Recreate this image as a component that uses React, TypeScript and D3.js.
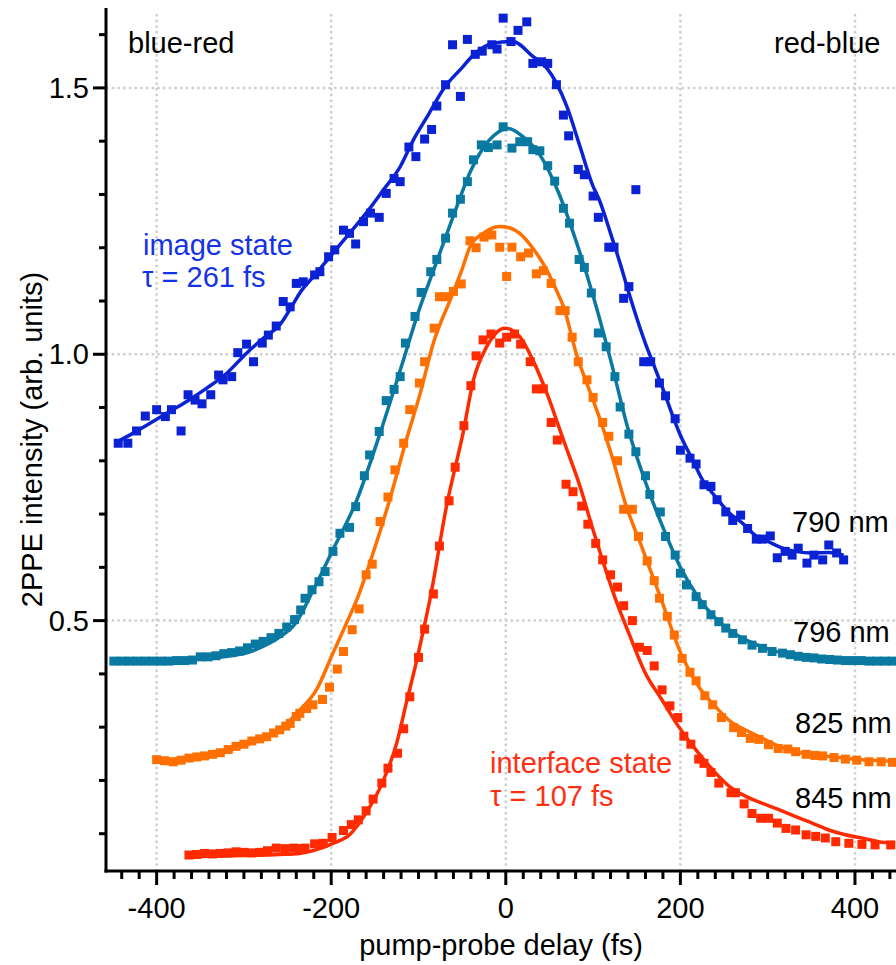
import React from "react";
import * as d3 from "d3";

// Cross-correlation traces: measured points (delay in fs, 2PPE signal) and fitted curves
const blueDelay = [-444,-433,-423,-413,-400,-390,-383,-372,-364,-356,-348,-338,-329,-324,-314,-307,-297,-289,-279,-272,-263,-255,-247,-240,-232,-219,-213,-203,-196,-186,-179,-172,-163,-155,-145,-137,-128,-121,-111,-103,-93,-85,-79,-69,-61,-52,-44,-35,-27,-16,-10,-3,6,14,24,31,41,48,58,66,72,83,90,100,106,118,124,135,141,149,158,166,176,183,194,200,211,218,227,235,242,252,260,269,277,287,294,303,311,320,328,335,345,353,363,370,379,387];
const blueSignal = [0.833,0.833,0.856,0.884,0.896,0.883,0.896,0.856,0.924,0.914,0.907,0.924,0.961,0.952,0.958,1.003,1.019,0.986,1.021,1.036,1.053,1.099,1.089,1.133,1.136,1.149,1.155,1.183,1.196,1.233,1.227,1.207,1.249,1.265,1.257,1.302,1.330,1.324,1.389,1.371,1.404,1.422,1.466,1.506,1.581,1.484,1.591,1.563,1.569,1.581,1.573,1.631,1.587,1.608,1.624,1.546,1.549,1.546,1.506,1.449,1.410,1.347,1.337,1.297,1.257,1.201,1.201,1.105,1.127,1.309,0.986,0.986,0.946,0.922,0.879,0.820,0.805,0.794,0.755,0.752,0.727,0.704,0.688,0.698,0.673,0.653,0.653,0.659,0.618,0.630,0.623,0.636,0.608,0.623,0.614,0.642,0.627,0.614];
const blueFitDelay = [-448,-427,-408,-389,-366,-343,-320,-297,-278,-259,-243,-236,-217,-198,-179,-160,-140,-121,-106,-89,-71,-49,-37,-14,8,31,47,58,70,85,100,107,120,132,141,150,160,170,180,190,200,214,225,240,256,271,286,301,317,332,351,370,387];
const blueFit = [0.833,0.852,0.870,0.889,0.911,0.936,0.964,1.002,1.030,1.055,1.096,1.115,1.152,1.190,1.227,1.265,1.309,1.352,1.402,1.449,1.499,1.540,1.562,1.584,1.587,1.559,1.537,1.509,1.465,1.390,1.315,1.290,1.227,1.165,1.115,1.068,1.020,0.978,0.935,0.890,0.848,0.802,0.765,0.733,0.702,0.683,0.660,0.648,0.636,0.630,0.627,0.628,0.623];

const tealDelay = [-449,-440,-431,-422,-413,-404,-395,-386,-377,-368,-359,-350,-341,-332,-323,-314,-305,-296,-287,-278,-269,-260,-251,-242,-235,-230,-222,-214,-207,-198,-190,-179,-172,-162,-156,-145,-137,-128,-121,-115,-104,-97,-86,-79,-69,-61,-52,-44,-37,-28,-20,-10,-3,7,16,25,31,39,48,56,66,73,84,90,98,106,115,125,131,141,149,160,165,177,183,194,200,207,218,225,235,244,252,260,271,282,294,305,317,326,335,344,353,362,371,380,389,398,407,416,425,434,443];
const tealSignal = [0.424,0.424,0.424,0.424,0.424,0.424,0.424,0.424,0.425,0.425,0.426,0.432,0.432,0.434,0.438,0.440,0.443,0.449,0.456,0.461,0.468,0.476,0.488,0.502,0.520,0.542,0.558,0.573,0.592,0.630,0.664,0.675,0.714,0.772,0.811,0.855,0.913,0.934,0.958,1.021,1.071,1.116,1.155,1.178,1.218,1.265,1.291,1.324,1.365,1.393,1.388,1.393,1.427,1.387,1.399,1.399,1.384,1.382,1.354,1.325,1.274,1.246,1.178,1.163,1.115,1.040,1.014,0.958,0.901,0.850,0.817,0.772,0.737,0.704,0.658,0.623,0.589,0.567,0.545,0.530,0.511,0.498,0.486,0.476,0.464,0.454,0.448,0.442,0.439,0.436,0.433,0.431,0.430,0.428,0.427,0.426,0.425,0.425,0.425,0.424,0.424,0.424,0.424];
const tealFitDelay = [-449,-400,-350,-320,-300,-280,-260,-240,-221,-198,-171,-144,-120,-100,-80,-60,-40,-20,3,20,40,60,80,100,120,140,160,180,200,220,240,260,280,300,320,350,400,446];
const tealFit = [0.424,0.424,0.428,0.433,0.438,0.450,0.468,0.497,0.556,0.633,0.725,0.852,0.975,1.080,1.170,1.260,1.345,1.400,1.424,1.408,1.372,1.305,1.215,1.110,0.990,0.860,0.760,0.675,0.600,0.545,0.505,0.478,0.460,0.447,0.438,0.430,0.425,0.424];

const orangeDelay = [-400,-391,-381,-372,-363,-354,-345,-336,-327,-318,-309,-300,-291,-282,-274,-266,-259,-252,-247,-240,-236,-228,-221,-210,-202,-193,-186,-176,-168,-160,-153,-144,-135,-127,-117,-110,-99,-93,-82,-76,-69,-60,-51,-41,-34,-25,-16,-7,1,7,17,26,35,43,52,62,68,76,83,93,100,111,118,128,135,145,152,162,170,176,185,193,202,211,218,228,237,247,261,270,280,290,301,312,323,332,344,354,363,376,389,402,416,430,443];
const orangeSignal = [0.239,0.237,0.235,0.238,0.242,0.244,0.246,0.249,0.252,0.258,0.264,0.268,0.274,0.278,0.282,0.289,0.295,0.302,0.307,0.320,0.326,0.335,0.342,0.352,0.375,0.409,0.442,0.483,0.522,0.586,0.606,0.686,0.732,0.783,0.833,0.896,0.946,0.986,1.049,1.108,1.108,1.118,1.132,1.213,1.200,1.220,1.224,1.201,1.146,1.201,1.183,1.190,1.151,1.157,1.133,1.082,1.082,1.032,0.986,0.952,0.919,0.872,0.846,0.800,0.709,0.709,0.658,0.612,0.575,0.542,0.508,0.473,0.429,0.403,0.387,0.359,0.342,0.318,0.299,0.290,0.279,0.277,0.267,0.260,0.259,0.254,0.249,0.247,0.246,0.243,0.240,0.238,0.235,0.235,0.234];
const orangeFitDelay = [-400,-350,-300,-260,-236,-217,-198,-179,-171,-152,-133,-114,-98,-83,-63,-50,-41,-26,-7,5,16,31,47,58,66,81,100,110,122,137,157,178,202,221,240,258,273,294,313,340,370,408,446];
const orangeFit = [0.238,0.245,0.265,0.295,0.332,0.370,0.439,0.508,0.538,0.627,0.727,0.839,0.927,1.021,1.105,1.160,1.202,1.227,1.240,1.237,1.227,1.199,1.158,1.120,1.090,1.000,0.914,0.868,0.806,0.720,0.633,0.540,0.433,0.376,0.339,0.310,0.296,0.279,0.264,0.251,0.245,0.239,0.236];

const redDelay = [-363,-354,-345,-336,-327,-318,-309,-300,-291,-282,-273,-263,-253,-243,-236,-230,-219,-209,-199,-186,-177,-169,-160,-152,-142,-135,-124,-117,-110,-100,-93,-83,-76,-65,-58,-48,-40,-34,-26,-17,-7,1,10,17,28,35,43,52,59,69,77,87,94,103,111,120,128,135,145,153,162,170,179,188,197,204,212,221,227,235,244,258,263,273,282,292,301,311,321,332,344,355,366,378,393,408,423,441];
const redSignal = [0.060,0.061,0.063,0.062,0.063,0.064,0.066,0.065,0.064,0.065,0.068,0.073,0.072,0.073,0.072,0.073,0.081,0.082,0.093,0.106,0.117,0.126,0.143,0.165,0.195,0.223,0.251,0.297,0.357,0.431,0.484,0.550,0.640,0.725,0.788,0.866,0.941,0.997,1.027,1.038,1.021,1.032,1.038,1.019,0.986,0.935,0.935,0.872,0.839,0.756,0.742,0.715,0.681,0.645,0.614,0.586,0.563,0.528,0.500,0.450,0.444,0.415,0.370,0.340,0.318,0.283,0.268,0.240,0.232,0.215,0.195,0.177,0.177,0.156,0.138,0.129,0.129,0.120,0.110,0.107,0.098,0.095,0.092,0.085,0.082,0.080,0.079,0.079];
const redFitDelay = [-362,-300,-260,-236,-217,-198,-179,-160,-140,-125,-114,-102,-91,-87,-68,-49,-37,-22,-1,16,31,47,66,85,100,126,141,160,179,198,218,237,256,275,294,313,332,351,370,389,408,427,446];
const redFit = [0.057,0.059,0.061,0.063,0.070,0.082,0.098,0.139,0.201,0.270,0.345,0.426,0.508,0.539,0.714,0.852,0.952,1.014,1.049,1.033,0.989,0.927,0.839,0.752,0.670,0.539,0.476,0.401,0.351,0.301,0.257,0.220,0.189,0.170,0.157,0.145,0.132,0.120,0.107,0.098,0.092,0.085,0.082];

const xMajorTicks = [-400, -200, 0, 200, 400];
const yMajorTicks = [0.5, 1.0, 1.5];
const yTickLabels = ["0.5", "1.0", "1.5"];

const wavelengths = ["790 nm", "796 nm", "825 nm", "845 nm"];
const colors = ["#0b22d4", "#0a79a2", "#ff7000", "#ff2a00"];

const series = [
  { name: wavelengths[0], color: colors[0], dx: blueDelay, dy: blueSignal, fx: blueFitDelay, fy: blueFit },
  { name: wavelengths[1], color: colors[1], dx: tealDelay, dy: tealSignal, fx: tealFitDelay, fy: tealFit },
  { name: wavelengths[2], color: colors[2], dx: orangeDelay, dy: orangeSignal, fx: orangeFitDelay, fy: orangeFit },
  { name: wavelengths[3], color: colors[3], dx: redDelay, dy: redSignal, fx: redFitDelay, fy: redFit },
];

const W = 896;
const H = 965;
const FONT = "'Liberation Sans', Arial, Helvetica, sans-serif";
const FS = 29;

export default function App() {
  const x = d3.scaleLinear().domain([-458, 447]).range([106, 896]);
  const y = d3.scaleLinear().domain([0.03, 1.65]).range([871, 8]);
  const [x0, x1] = x.range();
  const [yb, yt] = y.range();

  const line = d3
    .line<[number, number]>()
    .x((d) => x(d[0]))
    .y((d) => y(d[1]))
    .curve(d3.curveMonotoneX);

  const xMinor = d3.range(-440, 441, 20).filter((t) => t % 200 !== 0);
  const yMinor = d3.range(1, 17).map((i) => i / 10).filter((v) => Math.abs(v * 2 - Math.round(v * 2)) > 1e-6);

  const sq = 9;
  const grid = "#cfcfcf";

  return (
    <svg
      width={W}
      height={H}
      style={{ position: "absolute", left: 0, top: 0, background: "#fff" }}
      fontFamily={FONT}
    >
      {/* dotted grid */}
      <g stroke={grid} strokeWidth={2.5} strokeDasharray="2.5 3.2">
        {xMajorTicks.map((t) => (
          <line key={"gx" + t} x1={x(t)} x2={x(t)} y1={yt + 6} y2={yb} />
        ))}
        {yMajorTicks.map((v) => (
          <line key={"gy" + v} x1={x0} x2={x1} y1={y(v)} y2={y(v)} />
        ))}
      </g>

      {/* data and fits */}
      {series.map((s) => (
        <g key={s.name}>
          <g fill={s.color}>
            {s.dx.map((t, i) => (
              <rect key={i} x={x(t) - sq / 2} y={y(s.dy[i]) - sq / 2} width={sq} height={sq} />
            ))}
          </g>
          <path
            d={line(s.fx.map((t, i) => [t, s.fy[i]] as [number, number])) || ""}
            fill="none"
            stroke={s.color}
            strokeWidth={3.5}
            strokeLinejoin="round"
          />
        </g>
      ))}

      {/* axes */}
      <g stroke="#000" strokeWidth={3}>
        <line x1={x0} x2={x0} y1={yt} y2={yb + 1.5} />
        <line x1={x0 - 1.5} x2={x1} y1={yb} y2={yb} />
        {xMajorTicks.map((t) => (
          <line key={"xt" + t} x1={x(t)} x2={x(t)} y1={yb} y2={yb + 14} />
        ))}
        {xMinor.map((t) => (
          <line key={"xm" + t} x1={x(t)} x2={x(t)} y1={yb} y2={yb + 8} />
        ))}
        {yMajorTicks.map((v) => (
          <line key={"yt" + v} x1={x0} x2={x0 - 13} y1={y(v)} y2={y(v)} />
        ))}
        {yMinor.map((v) => (
          <line key={"ym" + v} x1={x0} x2={x0 - 7} y1={y(v)} y2={y(v)} />
        ))}
      </g>

      <g fontSize={FS} fill="#000">
        {xMajorTicks.map((t) => (
          <text key={"xl" + t} x={x(t)} y={yb + 47} textAnchor="middle">
            {t}
          </text>
        ))}
        {yMajorTicks.map((v, i) => (
          <text key={"yl" + v} x={x0 - 17} y={y(v) + 10} textAnchor="end">
            {yTickLabels[i]}
          </text>
        ))}
        <text x={(x0 + x1) / 2} y={955} textAnchor="middle">
          pump-probe delay (fs)
        </text>
        <text transform={`translate(42, ${(yt + yb) / 2}) rotate(-90)`} textAnchor="middle">
          2PPE intensity (arb. units)
        </text>

        <text x={128} y={53}>blue-red</text>
        <text x={774} y={53}>red-blue</text>

        <text x={792} y={532}>{wavelengths[0]}</text>
        <text x={793} y={642}>{wavelengths[1]}</text>
        <text x={795} y={733}>{wavelengths[2]}</text>
        <text x={795} y={808}>{wavelengths[3]}</text>
      </g>

      <g fontSize={FS} fill="#1533e6">
        <text x={143} y={255}>image state</text>
        <text x={142} y={287}>τ = 261 fs</text>
      </g>
      <g fontSize={FS} fill="#ff2f14">
        <text x={490} y={773}>interface state</text>
        <text x={490} y={806}>τ = 107 fs</text>
      </g>
    </svg>
  );
}
